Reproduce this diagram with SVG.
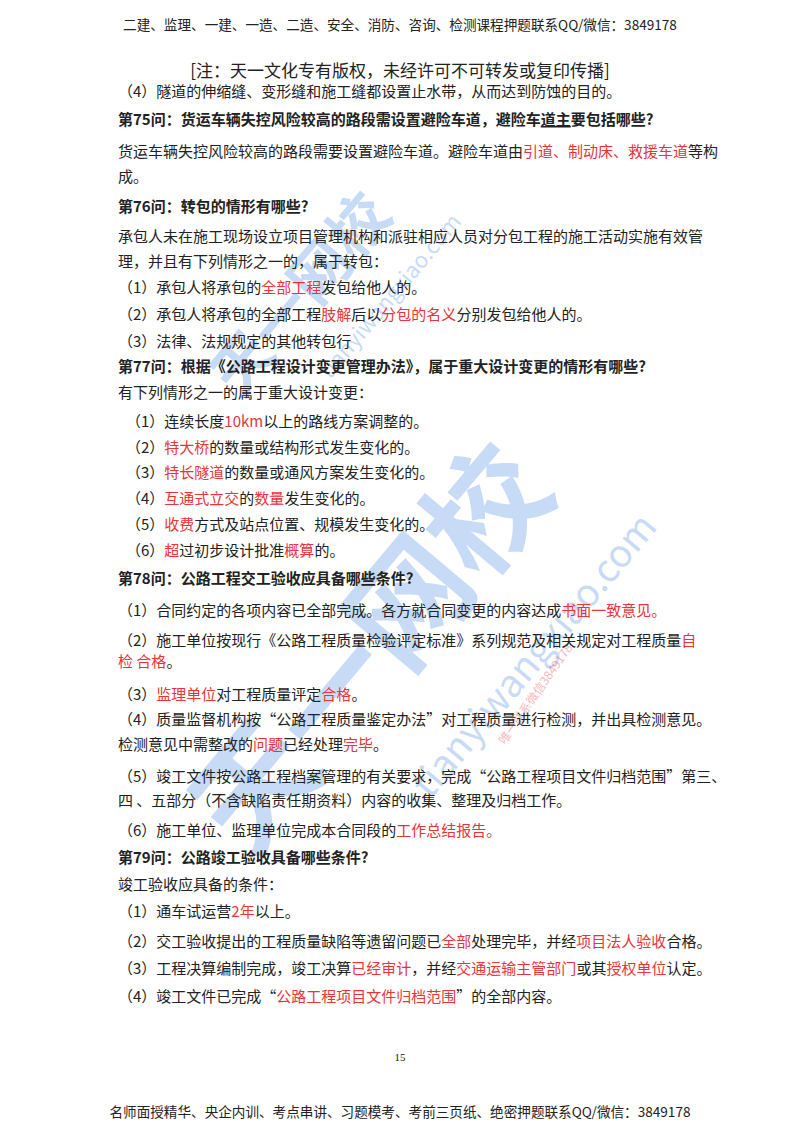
<svg xmlns="http://www.w3.org/2000/svg" width="800" height="1131" viewBox="0 0 800 1131">
<style>
text{font-family:"Noto Sans CJK SC","Noto Sans",sans-serif;font-size:15px;fill:#222}
.b{font-weight:bold}
.r{fill:#e8333a}
.wm{fill:#3d7fe0;opacity:0.28;font-weight:bold}
.hd{font-size:13.6px}
</style>
<rect width="800" height="1131" fill="#fff"/>
<g>
<text class="wm" style="font-size:120px" transform="translate(250,860) rotate(-50)">天一网校</text>
<text class="wm" style="font-size:38px;font-weight:normal" transform="translate(430,800) rotate(-50)">tianyiwangxiao.com</text>
<text class="wm" style="font-size:60px" transform="translate(240,400) rotate(-50)">天一网校</text>
<text class="wm" style="font-size:22px;font-weight:normal" transform="translate(330,380) rotate(-50)">tianyiwangxiao.com</text>
<text style="font-size:12px;fill:#e8333a;opacity:0.35" transform="translate(505,745) rotate(-55)">唯一联系微信3849178</text>
</g>
<text class="hd" x="400" y="30" text-anchor="middle">二建、监理、一建、一造、二造、安全、消防、咨询、检测课程押题联系QQ/微信：3849178</text>
<text x="400" y="77" text-anchor="middle" style="font-size:17px">[注：天一文化专有版权，未经许可不可转发或复印传播]</text>
<text x="118" y="97">（4）隧道的伸缩缝、变形缝和施工缝都设置止水带，从而达到防蚀的目的。</text>
<text class="b" x="118" y="125">第75问：货运车辆失控风险较高的路段需设置避险车道，避险车<tspan text-decoration="underline">道主</tspan>要包括哪些?</text>
<text x="118" y="157">货运车辆失控风险较高的路段需要设置避险车道。避险车道由<tspan class="r">引道、制动床、救援车道</tspan>等构</text>
<text x="118" y="182">成。</text>
<text class="b" x="118" y="212">第76问：转包的情形有哪些?</text>
<text x="118" y="242">承包人未在施工现场设立项目管理机构和派驻相应人员对分包工程的施工活动实施有效管</text>
<text x="118" y="267">理，并且有下列情形之一的，属于转包：</text>
<text x="118" y="293">（1）承包人将承包的<tspan class="r">全部工程</tspan>发包给他人的。</text>
<text x="118" y="320">（2）承包人将承包的全部工程<tspan class="r">肢解</tspan>后以<tspan class="r">分包的名义</tspan>分别发包给他人的。</text>
<text x="118" y="347">（3）法律、法规规定的其他转包行</text>
<text class="b" x="118" y="372">第77问：根据《公路工程设计变更管理办法》，属于重大设计变更的情形有哪些?</text>
<text x="118" y="398">有下列情形之一的属于重大设计变更：</text>
<text x="126" y="427">（1）连续长度<tspan class="r">10km</tspan>以上的路线方案调整的。</text>
<text x="126" y="453">（2）<tspan class="r">特大桥</tspan>的数量或结构形式发生变化的。</text>
<text x="126" y="478">（3）<tspan class="r">特长隧道</tspan>的数量或通风方案发生变化的。</text>
<text x="126" y="504">（4）<tspan class="r">互通式立交</tspan>的<tspan class="r">数量</tspan>发生变化的。</text>
<text x="126" y="530">（5）<tspan class="r">收费</tspan>方式及站点位置、规模发生变化的。</text>
<text x="126" y="556">（6）<tspan class="r">超</tspan>过初步设计批准<tspan class="r">概算</tspan>的。</text>
<text class="b" x="118" y="584">第78问：公路工程交工验收应具备哪些条件?</text>
<text x="118" y="616">（1）合同约定的各项内容已全部完成。各方就合同变更的内容达成<tspan class="r">书面一致意见。</tspan></text>
<text x="118" y="646">（2）施工单位按现行《公路工程质量检验评定标准》系列规范及相关规定对工程质量<tspan class="r">自</tspan></text>
<text x="118" y="667"><tspan class="r">检  合格</tspan>。</text>
<text x="118" y="700">（3）<tspan class="r">监理单位</tspan>对工程质量评定<tspan class="r">合格</tspan>。</text>
<text x="118" y="725">（4）质量监督机构按“公路工程质量鉴定办法”对工程质量进行检测，并出具检测意见。</text>
<text x="118" y="750">检测意见中需整改的<tspan class="r">问题</tspan>已经处理<tspan class="r">完毕</tspan>。</text>
<text x="118" y="782">（5）竣工文件按公路工程档案管理的有关要求，完成“公路工程项目文件归档范围”第三、</text>
<text x="118" y="806">四 、五部分（不含缺陷责任期资料）内容的收集、整理及归档工作。</text>
<text x="118" y="836">（6）施工单位、监理单位完成本合同段的<tspan class="r">工作总结报告。</tspan></text>
<text class="b" x="118" y="863">第79问：公路竣工验收具备哪些条件?</text>
<text x="118" y="890">竣工验收应具备的条件：</text>
<text x="118" y="917">（1）通车试运营<tspan class="r">2年</tspan>以上。</text>
<text x="118" y="947">（2）交工验收提出的工程质量缺陷等遗留问题已<tspan class="r">全部</tspan>处理完毕，并经<tspan class="r">项目法人验收</tspan>合格。</text>
<text x="118" y="974">（3）工程决算编制完成，竣工决算<tspan class="r">已经审计</tspan>，并经<tspan class="r">交通运输主管部门</tspan>或其<tspan class="r">授权单位</tspan>认定。</text>
<text x="118" y="1002">（4）竣工文件已完成“<tspan class="r">公路工程项目文件归档范围</tspan>”的全部内容。</text>
<text x="400" y="1061" text-anchor="middle" style="font-size:11px;font-family:'Liberation Serif',serif">15</text>
<text class="hd" x="400" y="1117" text-anchor="middle">名师面授精华、央企内训、考点串讲、习题模考、考前三页纸、绝密押题联系QQ/微信：3849178</text>
</svg>
